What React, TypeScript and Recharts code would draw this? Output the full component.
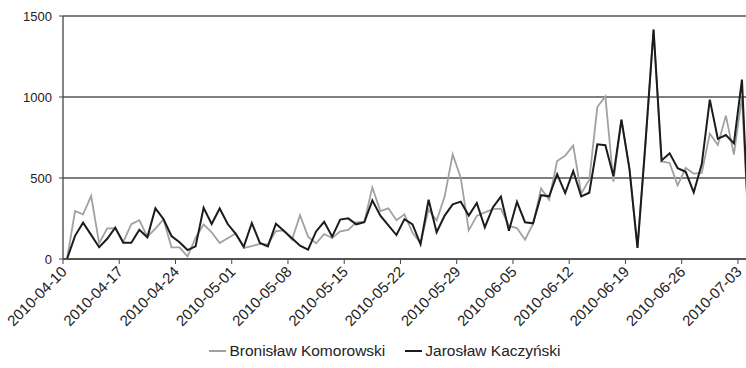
import { LineChart, Line, XAxis, YAxis, CartesianGrid, Legend } from "recharts";

// daily counts, 2010-04-10 .. 2010-07-04
const DATES = [
  "2010-04-10", "2010-04-11", "2010-04-12", "2010-04-13", "2010-04-14", "2010-04-15", "2010-04-16",
  "2010-04-17", "2010-04-18", "2010-04-19", "2010-04-20", "2010-04-21", "2010-04-22", "2010-04-23",
  "2010-04-24", "2010-04-25", "2010-04-26", "2010-04-27", "2010-04-28", "2010-04-29", "2010-04-30",
  "2010-05-01", "2010-05-02", "2010-05-03", "2010-05-04", "2010-05-05", "2010-05-06", "2010-05-07",
  "2010-05-08", "2010-05-09", "2010-05-10", "2010-05-11", "2010-05-12", "2010-05-13", "2010-05-14",
  "2010-05-15", "2010-05-16", "2010-05-17", "2010-05-18", "2010-05-19", "2010-05-20", "2010-05-21",
  "2010-05-22", "2010-05-23", "2010-05-24", "2010-05-25", "2010-05-26", "2010-05-27", "2010-05-28",
  "2010-05-29", "2010-05-30", "2010-05-31", "2010-06-01", "2010-06-02", "2010-06-03", "2010-06-04",
  "2010-06-05", "2010-06-06", "2010-06-07", "2010-06-08", "2010-06-09", "2010-06-10", "2010-06-11",
  "2010-06-12", "2010-06-13", "2010-06-14", "2010-06-15", "2010-06-16", "2010-06-17", "2010-06-18",
  "2010-06-19", "2010-06-20", "2010-06-21", "2010-06-22", "2010-06-23", "2010-06-24", "2010-06-25",
  "2010-06-26", "2010-06-27", "2010-06-28", "2010-06-29", "2010-06-30", "2010-07-01", "2010-07-02",
  "2010-07-03", "2010-07-04",
];

const KOMOROWSKI = [
  0, 296, 276, 389, 97, 189, 189,
  105, 215, 239, 138, 188, 245, 72,
  72, 16, 130, 214, 165, 99, 128,
  158, 68, 80, 93, 90, 172, 177,
  119, 270, 138, 97, 154, 130, 171,
  179, 226, 230, 442, 296, 313, 239,
  276, 162, 99, 305, 237, 385, 646,
  502, 177, 266, 288, 308, 311, 204,
  191, 119, 216, 436, 366, 605, 638,
  700, 403, 490, 938, 1004, 477, 860,
  556, 69, 720, 1416, 602, 593, 455,
  562, 527, 531, 774, 704, 885, 644,
  1000, 0,
];

const KACZYNSKI = [
  0, 143, 224, 149, 73, 125, 194,
  100, 100, 180, 134, 313, 247, 142,
  103, 55, 78, 316, 216, 312, 216,
  155, 76, 222, 99, 78, 218, 173,
  128, 82, 58, 170, 230, 138, 243,
  251, 214, 227, 362, 267, 208, 148,
  246, 214, 91, 366, 165, 268, 337,
  354, 268, 346, 196, 318, 385, 175,
  353, 227, 220, 394, 387, 524, 407,
  543, 387, 409, 708, 702, 512, 860,
  556, 69, 720, 1416, 608, 652, 561,
  538, 411, 586, 984, 742, 765, 714,
  1107, 0,
];

const TICK_DATES = [
  "2010-04-10", "2010-04-17", "2010-04-24", "2010-05-01", "2010-05-08", "2010-05-15", "2010-05-22",
  "2010-05-29", "2010-06-05", "2010-06-12", "2010-06-19", "2010-06-26", "2010-07-03",
];

const Y_TICKS = [0, 500, 1000, 1500];

const FONT = "'Liberation Sans', Arial, sans-serif";
const AXIS = "#444";

const data = DATES.map((date, i) => ({
  idx: i,
  date,
  komorowski: KOMOROWSKI[i],
  kaczynski: KACZYNSKI[i],
}));

// ticks sit on the day boundaries, one per week
const X_TICKS = TICK_DATES.map((d) => DATES.indexOf(d) - 0.5);

const DateTick = ({ x, y, payload }: any) => {
  const label = DATES[Math.round(payload.value + 0.5)];
  const ax = x + 1;
  const ay = y + 3;
  return (
    <text
      x={ax}
      y={ay}
      dy="0.35em"
      textAnchor="end"
      transform={`rotate(-45, ${ax}, ${ay})`}
      fill="#222"
      fontSize={15}
      fontFamily={FONT}
    >
      {label}
    </text>
  );
};

const LegendContent = ({ payload }: any) => (
  <div
    style={{
      display: "flex",
      justifyContent: "center",
      alignItems: "center",
      fontFamily: FONT,
      fontSize: 15.5,
      color: "#222",
      paddingLeft: 24,
    }}
  >
    {(payload || []).map((entry: any) => (
      <div key={entry.value} style={{ display: "flex", alignItems: "center", margin: "0 10px" }}>
        <span
          style={{ display: "inline-block", width: 17, height: 2, background: entry.color, marginRight: 3 }}
        />
        {entry.value}
      </div>
    ))}
  </div>
);

export default function App() {
  return (
    <div style={{ position: "absolute", left: 0, top: 0, width: 746, height: 368, overflow: "hidden", background: "#fff" }}>
      <LineChart width={754} height={368} data={data} margin={{ top: 16, right: 0, left: 0, bottom: 0 }}>
        <CartesianGrid vertical={false} stroke="#555" strokeWidth={1.3} />
        <XAxis
          type="number"
          dataKey="idx"
          domain={[-0.5, DATES.length - 0.5]}
          ticks={X_TICKS}
          interval={0}
          height={109}
          tickSize={5}
          tickMargin={2}
          axisLine={{ stroke: AXIS, strokeWidth: 1.3 }}
          tickLine={{ stroke: AXIS }}
          tick={<DateTick />}
        />
        <YAxis
          domain={[0, 1500]}
          ticks={Y_TICKS}
          width={63}
          tickSize={4}
          tickMargin={7}
          axisLine={{ stroke: AXIS, strokeWidth: 1.3 }}
          tickLine={{ stroke: AXIS }}
          tick={{ fill: "#222", fontSize: 13, fontFamily: FONT }}
        />
        <Legend
          verticalAlign="middle"
          layout="horizontal"
          content={<LegendContent />}
          wrapperStyle={{ top: 342, left: 0, width: 746 }}
        />
        <Line
          type="linear"
          dataKey="komorowski"
          name="Bronisław Komorowski"
          stroke="#9ea2a6"
          strokeWidth={1.8}
          dot={false}
          isAnimationActive={false}
        />
        <Line
          type="linear"
          dataKey="kaczynski"
          name="Jarosław Kaczyński"
          stroke="#1c1c1c"
          strokeWidth={2}
          dot={false}
          isAnimationActive={false}
        />
      </LineChart>
    </div>
  );
}
